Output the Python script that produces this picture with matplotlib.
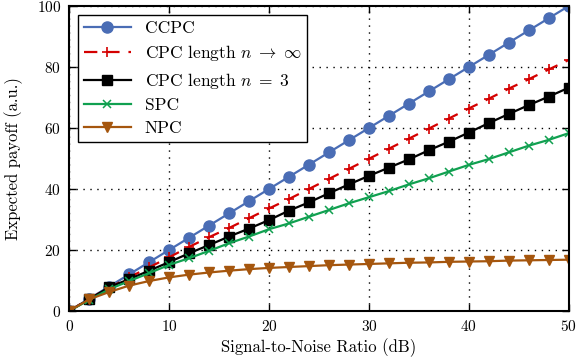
import matplotlib
matplotlib.use('Agg')
import matplotlib.pyplot as plt

snr = list(range(0, 51, 2))

ccpc = [0, 4, 8, 12, 16, 20, 24, 28, 32, 36, 40, 44, 48, 52, 56,
        60, 64, 68, 72, 76, 80, 84, 88, 92, 96, 100]
cpc_inf = [0, 4.0, 7.6, 11.0, 14.3, 17.6, 21.0, 24.2, 27.2, 30.4, 33.6, 36.7,
           40.0, 43.3, 46.6, 49.9, 53.2, 56.5, 59.8, 63.1, 66.4, 69.6, 72.9,
           76.0, 79.2, 82.3]
cpc_3 = [0, 3.8, 7.8, 10.4, 13.2, 16.0, 18.9, 21.6, 24.4, 27.0, 29.8, 32.9,
         35.6, 38.6, 41.5, 44.3, 47.0, 49.7, 52.7, 55.5, 58.5, 61.6, 64.6,
         67.5, 70.3, 73.2]
spc = [0, 3.6, 7.1, 9.8, 12.4, 15.1, 17.3, 19.7, 22.2, 24.4, 26.8, 28.7,
       30.9, 33.1, 35.3, 37.3, 39.3, 41.5, 43.5, 45.7, 47.9, 49.8, 52.0,
       54.2, 56.1, 58.3]
npc = [0, 3.8, 6.2, 8.3, 9.8, 11.0, 11.9, 12.6, 13.2, 13.7, 14.1, 14.4,
       14.7, 15.0, 15.2, 15.4, 15.6, 15.8, 15.9, 16.1, 16.2, 16.3, 16.5,
       16.6, 16.7, 16.8]

plt.rcParams['font.family'] = 'serif'
plt.rcParams['font.serif'] = ['cmr10']
plt.rcParams['mathtext.fontset'] = 'cm'
plt.rcParams['axes.formatter.use_mathtext'] = True

fig, ax = plt.subplots(figsize=(5.82, 3.59), dpi=100)

ax.plot(snr, ccpc, color='#4a6db5', marker='o', markersize=8, lw=1.6, label='CCPC')
ax.plot(snr, cpc_inf, color='#d40000', marker='+', markersize=7, mew=1.2, lw=1.6,
        ls=(0, (6, 4)), label=r'CPC length $n\;\rightarrow\;\infty$')
ax.plot(snr, cpc_3, color='black', marker='s', markersize=7, lw=1.6,
        label=r'CPC length $n\;=\;3$')
ax.plot(snr, spc, color='#10a050', marker='x', markersize=6, mew=1.1, lw=1.6, label='SPC')
ax.plot(snr, npc, color='#a5560e', marker='v', markersize=7, lw=1.6, label='NPC')

ax.set_xlim(0, 50)
ax.set_ylim(0, 100)
ax.set_xticks([0, 10, 20, 30, 40, 50])
ax.set_yticks([0, 20, 40, 60, 80, 100])
ax.tick_params(direction='in', length=5, width=1, labelsize=11, top=True, right=True, pad=6)
ax.grid(True, color='black', ls=(0, (1, 4)), lw=1)
for s in ax.spines.values():
    s.set_linewidth(1.5)

ax.set_xlabel('Signal-to-Noise Ratio (dB)', fontsize=12, labelpad=3)
ax.set_ylabel('Expected payoff (a.u.)', fontsize=12, labelpad=10)

leg = ax.legend(loc='upper left', fontsize=12.5, fancybox=False, framealpha=1,
                edgecolor='black', borderaxespad=0.5, handlelength=2.7,
                labelspacing=0.42, borderpad=0.35)
leg.get_frame().set_linewidth(1)

plt.subplots_adjust(left=0.119, right=0.977, bottom=0.134, top=0.983)
plt.savefig('out.png', dpi=100)
